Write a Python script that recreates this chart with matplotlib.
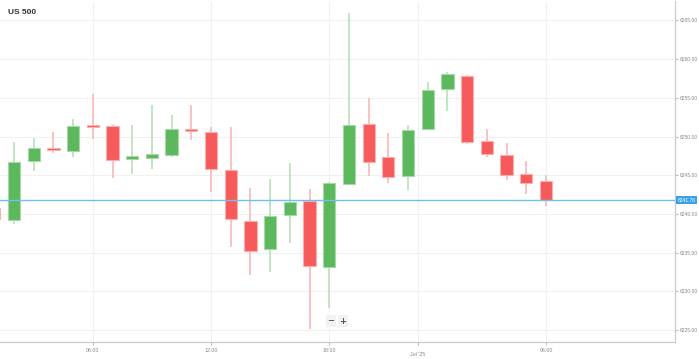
import matplotlib.pyplot as plt
import numpy as np

# hourly candles, index 0 is cut off at the left edge
opens = [6240.78, 6239.19, 6246.89, 6248.40, 6248.10, 6251.54, 6251.41, 6247.14,
         6247.24, 6247.58, 6251.02, 6250.63, 6245.68, 6239.13, 6235.44, 6239.87,
         6241.64, 6233.15, 6243.91, 6251.63, 6247.33, 6244.87, 6250.94, 6256.15,
         6257.87, 6249.47, 6247.66, 6245.17, 6244.22]
highs = [6241.00, 6249.26, 6249.78, 6250.56, 6252.27, 6255.50, 6251.50, 6251.54,
         6254.04, 6252.83, 6254.04, 6251.28, 6251.28, 6243.32, 6244.56, 6246.55,
         6243.27, 6244.10, 6266.01, 6255.03, 6250.50, 6251.50, 6257.05, 6258.31,
         6257.90, 6251.02, 6249.13, 6246.85, 6245.04]
lows = [6239.20, 6238.71, 6245.59, 6247.84, 6247.33, 6249.73, 6244.61, 6245.21,
        6245.81, 6247.33, 6249.60, 6242.80, 6235.78, 6232.12, 6232.55, 6236.29,
        6225.10, 6227.89, 6243.85, 6244.87, 6244.04, 6243.14, 6250.90, 6253.35,
        6249.01, 6247.36, 6244.35, 6242.58, 6241.07]
closes = [6239.35, 6246.76, 6248.53, 6248.27, 6251.41, 6251.28, 6247.02, 6247.45,
          6247.79, 6250.94, 6250.76, 6245.78, 6239.32, 6235.22, 6239.78, 6241.55,
          6233.28, 6244.00, 6251.50, 6246.76, 6244.74, 6250.81, 6256.02, 6258.05,
          6249.30, 6247.75, 6245.00, 6244.00, 6241.81]

last_price = 6241.76
y_ticks = [6225, 6230, 6235, 6240, 6245, 6250, 6255, 6260, 6265]
x_tick_pos = [5, 11, 17, 28]
x_tick_labels = ["06:00", "12:00", "18:00", "06:00"]
day_tick_pos = 21.5
day_label = "Jul '25"

green = "#5cb85c"
red = "#f75a5a"

plt.rcParams["font.family"] = ["Liberation Sans", "DejaVu Sans"]

fig = plt.figure(figsize=(6.99, 3.59), dpi=100)
ax = fig.add_axes([0, 17.3 / 359, 675 / 699, (341.7 - 1.5) / 359])

x = np.arange(len(opens))
o = np.array(opens)
c = np.array(closes)
up = c >= o
body_col = np.where(up, green, red)
wick_col = np.where(up, "#b9e0b9", "#fcb8b8")
edge_col = np.where(up, "#a8d8a8", "#fbb0b0")

ax.vlines(x, lows, highs, colors=wick_col, linewidth=1.2, zorder=2)
bottoms = np.minimum(o, c)
heights = np.maximum(np.abs(c - o), 0.2)
ax.bar(x, heights, bottom=bottoms, width=0.62, color=body_col,
       edgecolor=edge_col, linewidth=0.8, zorder=3)

ax.axhline(last_price, color="#6ec0f0", linewidth=1.0, zorder=4)

ax.set_xlim(0.29, 34.55)
ax.set_ylim(6223.5, 6267.45)

ax.set_yticks(y_ticks)
ax.set_yticklabels([f"{v:.2f}" for v in y_ticks])
ax.yaxis.tick_right()
ax.set_xticks(x_tick_pos + [day_tick_pos])
ax.set_xticklabels(x_tick_labels + [""])
ax.tick_params(axis="both", colors="#aaaaaa", length=2, width=0.6, pad=1.5)
ax.tick_params(axis="x", labelsize=3.8, labelcolor="#888888", pad=2.5)
ax.tick_params(axis="y", labelsize=3.6, labelcolor="#888888")
ax.grid(True, color="#f0f0f0", linewidth=0.8, zorder=0)

for side in ["left", "top"]:
    ax.spines[side].set_visible(False)
for side in ["right", "bottom"]:
    ax.spines[side].set_color("#cccccc")
    ax.spines[side].set_linewidth(0.9)

ax.text(day_tick_pos, -0.037, day_label, transform=ax.get_xaxis_transform(),
        ha="center", va="center", fontsize=3.8, color="#888888")

# price tag on the right axis
ax.text(1.004, last_price, f"{last_price:.2f}", transform=ax.get_yaxis_transform(),
        ha="left", va="center", fontsize=3.6, color="white",
        bbox=dict(boxstyle="square,pad=0.3", facecolor="#3aa0e8", edgecolor="none"))

fig.text(8 / 699, 1 - 12 / 359, "US 500", fontsize=6, fontweight="bold",
         color="#333333", ha="left", va="center")

# zoom buttons
for bx, s in [(331, "\u2212"), (343, "+")]:
    fig.text(bx / 699, 1 - 321 / 359, s, fontsize=6, fontweight="bold",
             color="#555555", ha="center", va="center",
             family=["DejaVu Sans"],
             bbox=dict(boxstyle="square,pad=0.2", facecolor="#f2f2f2",
                       edgecolor="none"))

fig.savefig("out.png", dpi=100)
